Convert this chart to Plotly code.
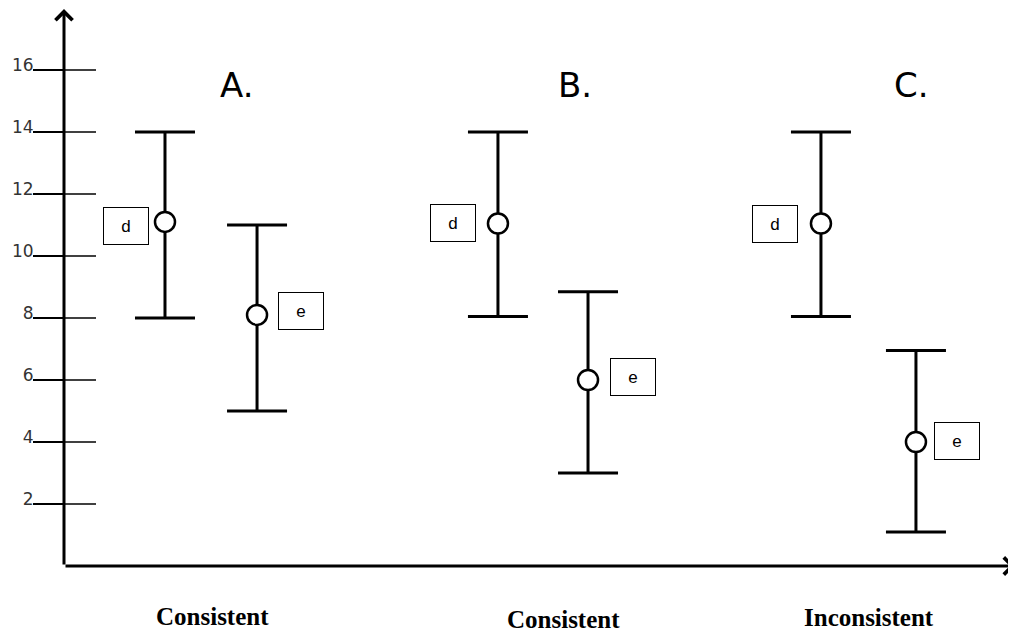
import plotly.graph_objects as go

# ---------------- data ----------------
groups = ["A.", "B.", "C."]
verdicts = ["Consistent", "Consistent", "Inconsistent"]
series_names = ["d", "e"]

d_mean = [11.1, 11.05, 11.05]
d_low = [8.0, 8.05, 8.05]
d_high = [14.0, 14.0, 14.0]

e_mean = [8.1, 6.0, 4.0]
e_low = [5.0, 3.0, 1.1]
e_high = [11.0, 8.85, 6.95]

tick_vals = [2, 4, 6, 8, 10, 12, 14, 16]
tick_text = ["2", "4", "6", "8", "10", "12", "14", "16"]

# ---------------- layout constants ----------------
# the page body has an 8px margin, so the figure is 8px smaller on each axis
W, H = 1008, 623
ML, MR, MT, MB = 56, 2, 0, 65
PLOT_W = W - ML - MR
PLOT_H = H - MT - MB
PX_PER_X = 95.0
PX_PER_Y = 31.0
x_range = [0, PLOT_W / PX_PER_X]
y_range = [0, PLOT_H / PX_PER_Y]
PAGE_AXIS_Y = 566  # page y of the x axis
ARROW_EXTRA_X = 6  # px the x-axis arrow tip reaches past the plot area

d_x = [1.063, 4.568, 7.968]
e_x = [2.032, 5.516, 8.968]
title_x = [1.811, 5.379, 8.926]
title_y = 15.52
verdict_x = [1.568, 5.263, 8.474]
verdict_py = [616, 619, 617]
d_box_shift = [(-39, -4), (-45, 0), (-46, -1)]
e_box_shift = [(44, 4), (45, 3), (41, 1)]

fig = go.Figure()


def add_series(xs, mean, low, high):
    fig.add_trace(go.Scatter(
        x=xs, y=mean, mode="markers",
        marker=dict(symbol="circle", size=20, color="white",
                    line=dict(color="black", width=2.5)),
        error_y=dict(type="data", symmetric=False,
                     array=[h - m for h, m in zip(high, mean)],
                     arrayminus=[m - l for m, l in zip(mean, low)],
                     color="black", thickness=3, width=30),
        showlegend=False, hoverinfo="skip", cliponaxis=False,
    ))


add_series(d_x, d_mean, d_low, d_high)
add_series(e_x, e_mean, e_low, e_high)

annotations = []
# group titles
for gx, g in zip(title_x, groups):
    annotations.append(dict(x=gx, y=title_y, xref="x", yref="y", text=g,
                            showarrow=False,
                            font=dict(family="DejaVu Sans", size=34, color="black")))
# verdict labels under the axis
for vx, vpy, v in zip(verdict_x, verdict_py, verdicts):
    annotations.append(dict(x=vx, y=-(vpy - PAGE_AXIS_Y) / PLOT_H, xref="x", yref="paper",
                            text=v, showarrow=False, xanchor="center", yanchor="middle",
                            font=dict(family="Liberation Serif", size=25, color="black",
                                      weight="bold")))
# boxed series labels
for name, xs, ys, shifts in (("d", d_x, d_mean, d_box_shift), ("e", e_x, e_mean, e_box_shift)):
    for x, y, (sx, sy) in zip(xs, ys, shifts):
        annotations.append(dict(x=x, y=y, xref="x", yref="y", text=name,
                                showarrow=False, xshift=sx, yshift=sy,
                                width=44, height=36, borderpad=0,
                                bordercolor="black", borderwidth=1, bgcolor="white",
                                font=dict(family="Liberation Sans", size=17, color="black")))
# axis arrows
annotations.append(dict(x=0, y=1, xref="paper", yref="paper", text="",
                        showarrow=True, ax=0, ay=PLOT_H, axref="pixel", ayref="pixel",
                        arrowhead=4, arrowsize=1.1, arrowwidth=3, arrowcolor="black"))
annotations.append(dict(x=1 + ARROW_EXTRA_X / PLOT_W, y=0, xref="paper", yref="paper", text="",
                        showarrow=True, ax=-(PLOT_W + ARROW_EXTRA_X), ay=0,
                        axref="pixel", ayref="pixel",
                        arrowhead=4, arrowsize=1.1, arrowwidth=3, arrowcolor="black"))

# right-hand halves of the tick marks
shapes = []
for tv in tick_vals:
    shapes.append(dict(type="line", xref="paper", yref="y",
                       x0=0, x1=32 / PLOT_W, y0=tv, y1=tv,
                       line=dict(color="black", width=1.5)))

fig.update_layout(
    width=W, height=H,
    margin=dict(l=ML, r=MR, t=MT, b=MB, pad=0),
    paper_bgcolor="white", plot_bgcolor="white",
    annotations=annotations, shapes=shapes,
    xaxis=dict(range=x_range, showgrid=False, zeroline=False, showline=False,
               showticklabels=False, ticks=""),
    yaxis=dict(range=y_range, showgrid=False, zeroline=False, showline=False,
               tickmode="array", tickvals=tick_vals, ticktext=tick_text,
               ticks="outside", ticklen=30, tickwidth=1.5, tickcolor="black",
               ticklabelshift=-5, ticklabelstandoff=-4,
               tickfont=dict(family="DejaVu Sans", size=17, color="#333")),
)

fig.write_html("out.html")
